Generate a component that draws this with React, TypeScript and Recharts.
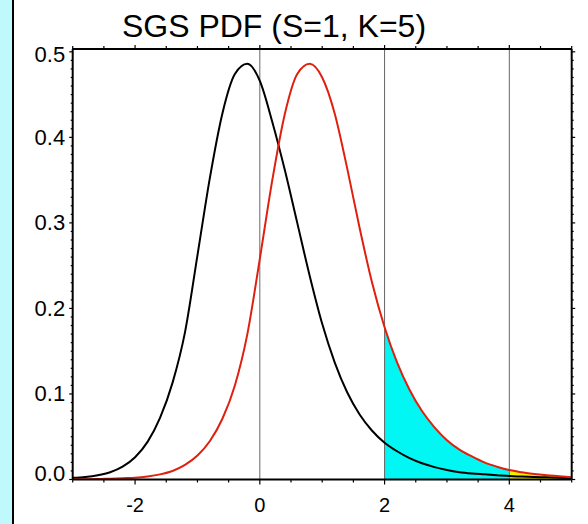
import { ComposedChart, Line, Area, XAxis, YAxis, ReferenceLine } from 'recharts'

// x positions the curves were read at
const xs = [
  -3, -2.8, -2.6, -2.4, -2.2, -2, -1.8, -1.6, -1.4, -1.2, -1, -0.8, -0.6, -0.4, -0.2,
  0, 0.2, 0.4, 0.6, 0.8, 1, 1.2, 1.4, 1.6, 1.8, 2, 2.2, 2.4, 2.6, 2.8, 3,
  3.2, 3.4, 3.6, 3.8, 4, 4.2, 4.4, 4.6, 4.8, 5,
]

// black curve
const basePdf = [
  0.002, 0.003, 0.005, 0.0085, 0.015, 0.026, 0.044, 0.072, 0.113, 0.172, 0.262, 0.353, 0.428, 0.474, 0.486,
  0.466, 0.418, 0.362, 0.3, 0.238, 0.182, 0.137, 0.102, 0.076, 0.057, 0.043, 0.033, 0.025, 0.019, 0.0145, 0.011,
  0.0085, 0.007, 0.006, 0.005, 0.004, 0.0035, 0.003, 0.0025, 0.002, 0.0015,
]

// red curve, S=1 K=5
const sgsPdf = [
  0.0002, 0.0003, 0.0005, 0.001, 0.0015, 0.002, 0.0035, 0.006, 0.01, 0.017, 0.028, 0.045, 0.071, 0.11, 0.17,
  0.258, 0.35, 0.427, 0.474, 0.486, 0.47, 0.428, 0.364, 0.294, 0.23, 0.178, 0.137, 0.105, 0.08, 0.061, 0.046,
  0.035, 0.027, 0.02, 0.015, 0.011, 0.0085, 0.0065, 0.005, 0.0038, 0.0025,
]

const xTicks = [-3, -2.5, -2, -1.5, -1, -0.5, 0, 0.5, 1, 1.5, 2, 2.5, 3, 3.5, 4, 4.5, 5]
const xLabels = [-2, 0, 2, 4]
const yLabels = [0, 0.1, 0.2, 0.3, 0.4, 0.5]
const yTicks = Array.from({ length: 51 }, (_, i) => i / 100)
const vLines = [0, 2, 4]
const cyanFrom = 2
const yellowFrom = 4

const data = xs.map((x, i) => ({
  x,
  black: basePdf[i],
  red: sgsPdf[i],
  cyan: x >= cyanFrom && x <= yellowFrom ? sgsPdf[i] : null,
  yellow: x >= yellowFrom ? sgsPdf[i] : null,
}))

const font = '"Liberation Sans", Arial, Helvetica, sans-serif'
const isMajorY = (v: number) => yLabels.some((l) => Math.abs(l - v) < 1e-9)

const BottomTick = ({ x, y, payload }: any) => {
  const v = payload.value
  const lab = xLabels.includes(v)
  return (
    <g>
      <line x1={x} x2={x} y1={y} y2={y + (lab ? 5 : 3)} stroke="#000" strokeWidth={1.2} />
      {lab && (
        <text x={x} y={y + 32} textAnchor="middle" fontSize={20} fontFamily={font} fill="#000">
          {v}
        </text>
      )}
    </g>
  )
}

const TopTick = ({ x, y, payload }: any) => {
  const lab = xLabels.includes(payload.value)
  return <line x1={x} x2={x} y1={y} y2={y - (lab ? 4 : 3)} stroke="#000" strokeWidth={1.2} />
}

const LeftTick = ({ x, y, payload }: any) => {
  const v = payload.value
  const major = isMajorY(v)
  const shift = v === 0 ? -6 : v === 0.5 ? 3 : 0
  return (
    <g>
      <line x1={x - (major ? 3.5 : 2)} x2={x} y1={y} y2={y} stroke="#000" strokeWidth={1.2} />
      {major && (
        <text x={x - 7.5} y={y + shift + 7.5} textAnchor="end" fontSize={22} fontFamily={font} fill="#000">
          {v.toFixed(1)}
        </text>
      )}
    </g>
  )
}

const RightTick = ({ x, y, payload }: any) => {
  const major = isMajorY(payload.value)
  return <line x1={x} x2={x + (major ? 3.5 : 2)} y1={y} y2={y} stroke="#000" strokeWidth={1.2} />
}

export default function App() {
  return (
    <div style={{ position: 'absolute', left: 0, top: 0, width: 588, height: 524, background: '#fff' }}>
      <div
        style={{
          position: 'absolute',
          left: 0,
          top: 0,
          width: 12,
          height: 524,
          background: '#bff9fc',
          borderRight: '2px solid #000',
        }}
      />
      <ComposedChart
        width={588}
        height={524}
        data={data}
        margin={{ top: 48, right: 15.3, bottom: 43.5, left: 71.7 }}
        style={{ position: 'absolute', left: 0, top: 0 }}
      >
        <text x={274} y={37} textAnchor="middle" fontSize={32} fontFamily={font} fill="#000">
          SGS PDF (S=1, K=5)
        </text>
        <XAxis
          dataKey="x"
          type="number"
          domain={[-3, 5]}
          allowDataOverflow
          ticks={xTicks}
          interval={0}
          height={1}
          tickSize={0}
          tickMargin={0}
          tickLine={false}
          tick={<BottomTick />}
          axisLine={{ stroke: '#000', strokeWidth: 2 }}
        />
        <XAxis
          xAxisId="top"
          orientation="top"
          dataKey="x"
          type="number"
          domain={[-3, 5]}
          allowDataOverflow
          ticks={xTicks}
          interval={0}
          height={1}
          tickSize={0}
          tickMargin={0}
          tickLine={false}
          tick={<TopTick />}
          axisLine={{ stroke: '#000', strokeWidth: 2 }}
        />
        <YAxis
          type="number"
          domain={[0, 0.5033]}
          allowDataOverflow
          ticks={yTicks}
          interval={0}
          width={1}
          tickSize={0}
          tickMargin={0}
          tickLine={false}
          tick={<LeftTick />}
          axisLine={{ stroke: '#000', strokeWidth: 2 }}
        />
        <YAxis
          yAxisId="right"
          orientation="right"
          type="number"
          domain={[0, 0.5033]}
          allowDataOverflow
          ticks={yTicks}
          interval={0}
          width={1}
          tickSize={0}
          tickMargin={0}
          tickLine={false}
          tick={<RightTick />}
          axisLine={{ stroke: '#000', strokeWidth: 2 }}
        />
        <Area
          dataKey="cyan"
          type="monotone"
          stroke="none"
          fill="#00f7f3"
          fillOpacity={1}
          isAnimationActive={false}
        />
        <Area
          dataKey="yellow"
          type="monotone"
          stroke="none"
          fill="#f6f000"
          fillOpacity={1}
          isAnimationActive={false}
        />
        {vLines.map((v) => (
          <ReferenceLine key={v} x={v} stroke="#666" strokeWidth={1} />
        ))}
        <Line dataKey="black" type="monotone" stroke="#000" strokeWidth={2} dot={false} isAnimationActive={false} />
        <Line dataKey="red" type="monotone" stroke="#e0200e" strokeWidth={2} dot={false} isAnimationActive={false} />
      </ComposedChart>
    </div>
  )
}
